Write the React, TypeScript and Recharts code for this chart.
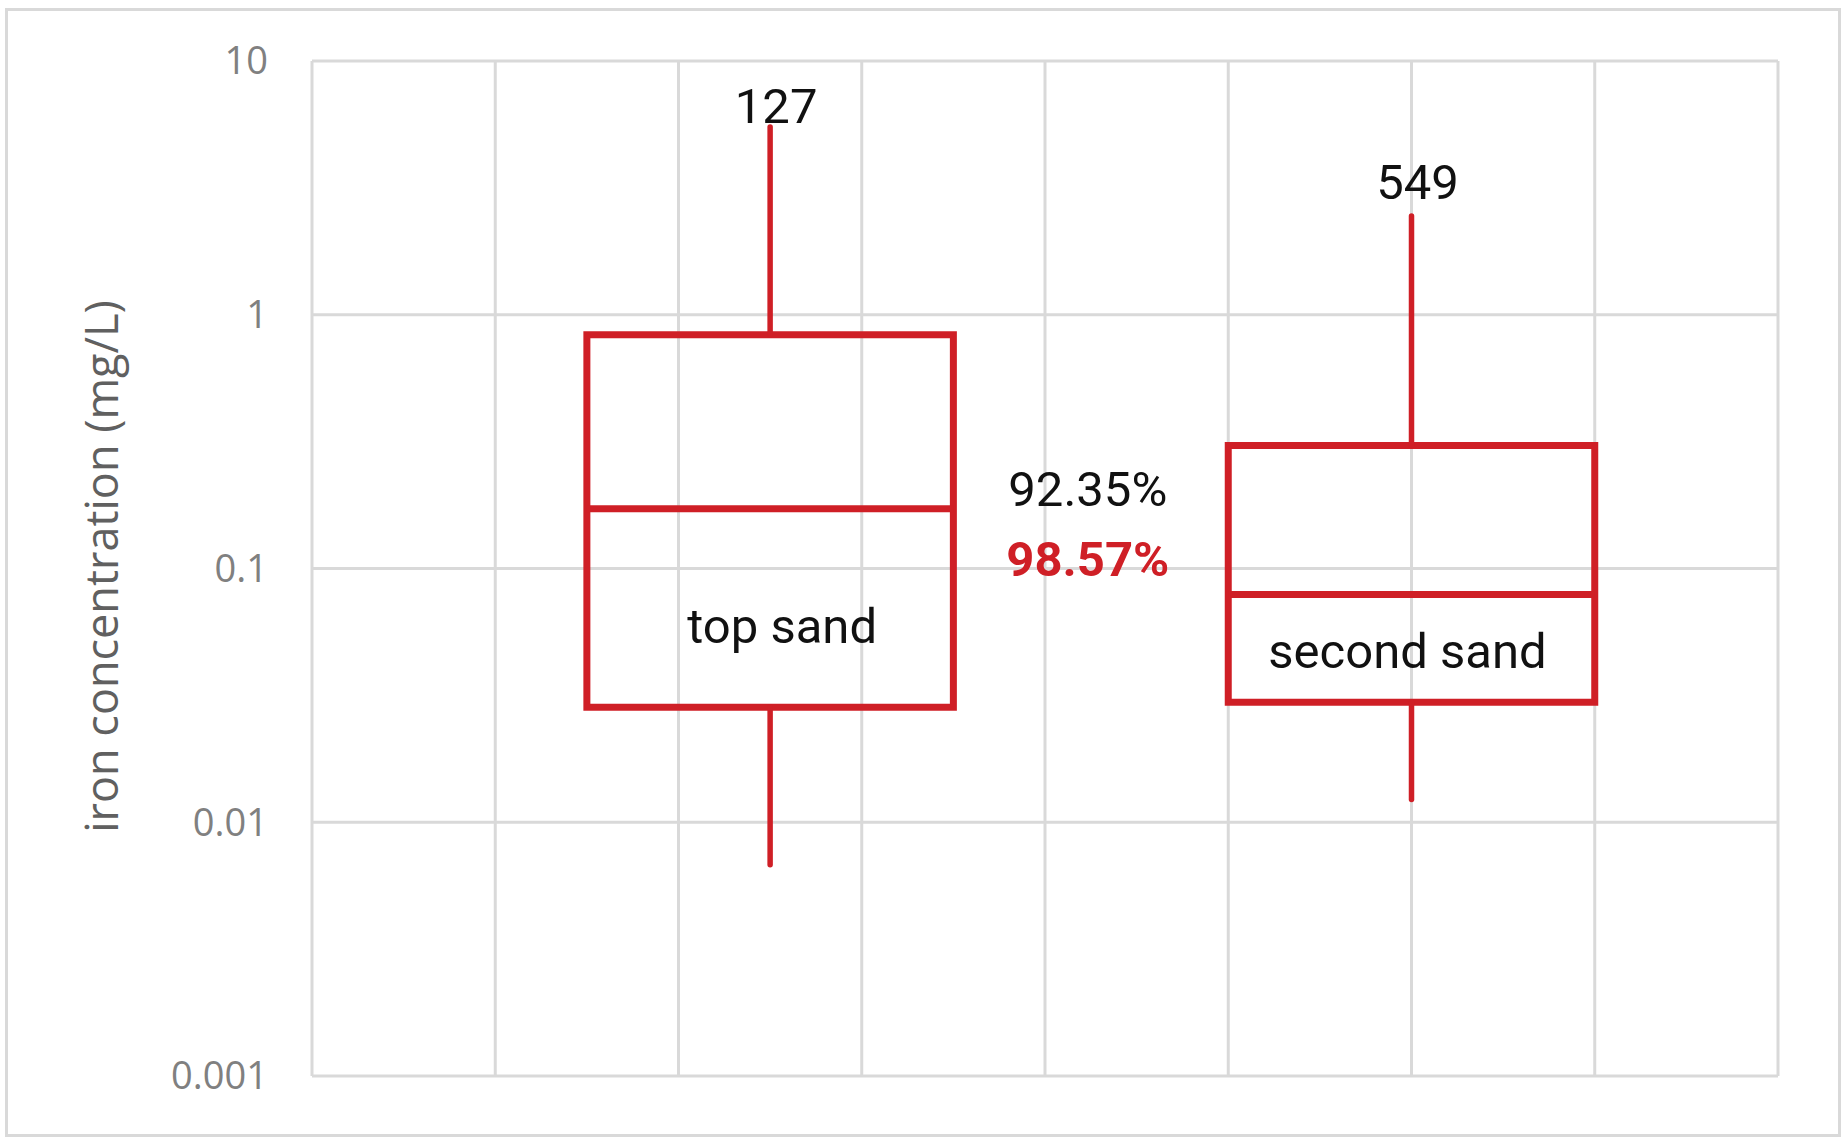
import React from 'react';
import {
  ComposedChart, XAxis, YAxis, CartesianGrid, Scatter,
  ReferenceArea, ReferenceLine, ReferenceDot
} from 'recharts';

// box statistics per sand layer, iron concentration in mg/L
const groups = ['top sand', 'second sand'];
const groupX = [2.5, 6];
const lowWhisker = [0.0068, 0.0123];
const lowerQuartile = [0.0284, 0.0297];
const medians = [0.172, 0.079];
const upperQuartile = [0.834, 0.305];
const highWhisker = [5.5, 2.45];
const sampleCounts = [127, 549];
const removalRates = [92.35, 98.57];

const yTicks = [0.001, 0.01, 0.1, 1, 10];
const xTicks = [0, 1, 2, 3, 4, 5, 6, 7, 8];

const RED = '#cf1f26';
const BOX_HALF = 1;
const NOTE_FONT = "Roboto, 'Open Sans', sans-serif";

const points = groups.map((name, i) => ({ name, x: groupX[i], y: medians[i] }));

interface NoteProps {
  viewBox?: { x: number; y: number; width?: number; height?: number };
  text: string;
  dx?: number;
  dy?: number;
  color?: string;
  weight?: number;
}

const Note: React.FC<NoteProps> = ({ viewBox, text, dx = 0, dy = 0, color = '#111', weight = 400 }) => {
  if (!viewBox) return null;
  const { x, y, width = 0, height = 0 } = viewBox;
  return (
    <text
      x={x + width / 2 + dx}
      y={y + height / 2 + dy}
      textAnchor="middle"
      fontFamily={NOTE_FONT}
      fontSize={49}
      fontWeight={weight}
      fill={color}
    >
      {text}
    </text>
  );
};

const AxisTitle: React.FC<{ viewBox?: { x: number; y: number; width: number; height: number } }> = ({ viewBox }) => {
  if (!viewBox) return null;
  const cx = viewBox.x + 118;
  const cy = viewBox.y + viewBox.height / 2 - 2;
  return (
    <text
      x={cx}
      y={cy}
      transform={`rotate(-90 ${cx} ${cy})`}
      textAnchor="middle"
      fontFamily="'Open Sans', sans-serif"
      fontSize={45}
      fill="#606060"
    >
      iron concentration (mg/L)
    </text>
  );
};

const App: React.FC = () => {
  const gapX = (groupX[0] + BOX_HALF + groupX[1] - BOX_HALF) / 2;
  return (
    <div style={{ position: 'absolute', left: 0, top: 0, width: 1845, height: 1138, background: '#fff' }}>
      <div style={{
        position: 'absolute', left: 5, top: 8, width: 1836, height: 1129,
        boxSizing: 'border-box', border: '3px solid #d9d9d9'
      }} />
      <div style={{ position: 'absolute', left: 0, top: 0 }}>
        <ComposedChart
          width={1845}
          height={1138}
          data={points}
          margin={{ top: 61, right: 67, bottom: 62, left: 0 }}
        >
          <CartesianGrid stroke="#d9d9d9" strokeWidth={3} />
          <XAxis type="number" dataKey="x" domain={[0, 8]} ticks={xTicks} allowDataOverflow hide />
          <YAxis
            type="number"
            scale="log"
            domain={[0.001, 10]}
            ticks={yTicks}
            allowDataOverflow
            width={312}
            axisLine={false}
            tickLine={false}
            tickSize={0}
            tickMargin={44}
            tick={{ fill: '#808080', fontSize: 38, fontFamily: "'Open Sans', sans-serif" }}
            label={<AxisTitle />}
          />
          <Scatter dataKey="y" isAnimationActive={false} shape={() => <g />} />

          {groups.map((name, i) => (
            <React.Fragment key={name}>
              <ReferenceLine
                segment={[{ x: groupX[i], y: upperQuartile[i] }, { x: groupX[i], y: highWhisker[i] }]}
                stroke={RED}
                strokeWidth={5.5}
                strokeLinecap="round"
              />
              <ReferenceLine
                segment={[{ x: groupX[i], y: lowerQuartile[i] }, { x: groupX[i], y: lowWhisker[i] }]}
                stroke={RED}
                strokeWidth={5.5}
                strokeLinecap="round"
              />
              <ReferenceArea
                x1={groupX[i] - BOX_HALF}
                x2={groupX[i] + BOX_HALF}
                y1={lowerQuartile[i]}
                y2={upperQuartile[i]}
                fill="none"
                fillOpacity={0}
                stroke={RED}
                strokeWidth={7}
              />
              <ReferenceLine
                segment={[{ x: groupX[i] - BOX_HALF, y: medians[i] }, { x: groupX[i] + BOX_HALF, y: medians[i] }]}
                stroke={RED}
                strokeWidth={7}
              />
              <ReferenceDot
                x={groupX[i]}
                y={highWhisker[i]}
                r={0}
                fill="none"
                stroke="none"
                label={<Note text={String(sampleCounts[i])} dx={6} dy={i === 0 ? -4 : -17} />}
              />
              <ReferenceDot
                x={groupX[i]}
                y={lowerQuartile[i]}
                r={0}
                fill="none"
                stroke="none"
                label={<Note text={name} dx={i === 0 ? 12 : -4} dy={i === 0 ? -64 : -34} />}
              />
            </React.Fragment>
          ))}

          <ReferenceDot
            x={gapX}
            y={0.1}
            r={0}
            fill="none"
            stroke="none"
            label={<Note text={`${removalRates[0].toFixed(2)}%`} dx={-3} dy={-63} />}
          />
          <ReferenceDot
            x={gapX}
            y={0.1}
            r={0}
            fill="none"
            stroke="none"
            label={<Note text={`${removalRates[1].toFixed(2)}%`} dx={-3} dy={7} color={RED} weight={700} />}
          />
        </ComposedChart>
      </div>
    </div>
  );
};

export default App;
